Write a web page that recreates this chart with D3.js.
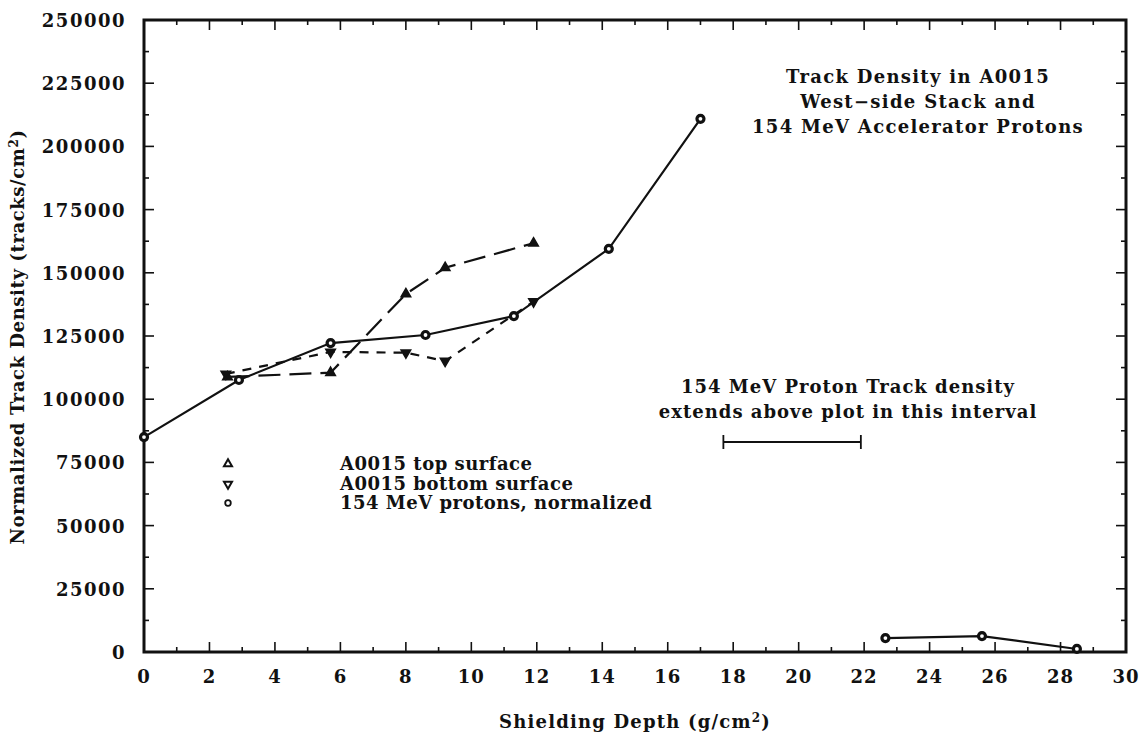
<!DOCTYPE html>
<html><head><meta charset="utf-8">
<script src="https://cdn.jsdelivr.net/npm/d3@7"></script>
<style>
body{margin:0;background:#fff;}
svg text{font-family:"DejaVu Serif",serif;font-weight:bold;fill:#111;}
</style></head>
<body><svg id="c" width="1143" height="732"></svg>
<script>
// ---- data ----
const topX = [2.55, 5.7, 8.0, 9.2, 11.9];
const topY = [108800, 110500, 141600, 152000, 161700];
const botX = [2.5, 5.7, 8.0, 9.2, 11.9];
const botY = [110000, 118700, 118400, 115100, 138600];
const protX1 = [0, 2.9, 5.7, 8.6, 11.3, 14.2, 17.0];
const protY1 = [85000, 107600, 122200, 125400, 132900, 159500, 210900];
const protX2 = [22.65, 25.6, 28.5];
const protY2 = [5500, 6300, 1200];
const xTicks = [0,2,4,6,8,10,12,14,16,18,20,22,24,26,28,30];
const yTicks = [0,25000,50000,75000,100000,125000,150000,175000,200000,225000,250000];
const legendLabels = ["A0015 top surface","A0015 bottom surface","154 MeV protons, normalized"];
const titleLines = ["Track Density in A0015","West\u2212side Stack and","154 MeV Accelerator Protons"];
const noteLines = ["154 MeV Proton Track density","extends above plot in this interval"];
const intervalX = [17.7, 21.9];

const svg = d3.select("#c");
const L=144,R=1126,T=20,B=652;
const x = d3.scaleLinear().domain([0,30]).range([L,R]);
const y = d3.scaleLinear().domain([0,250000]).range([B,T]);

// ticks (inward, all four sides)
const g = svg.append("g").attr("stroke","#111").attr("stroke-width",1.6);
d3.range(0,31,1).forEach(v=>{
  const len = v%2===0?10:5;
  g.append("line").attr("x1",x(v)).attr("x2",x(v)).attr("y1",B).attr("y2",B-len);
  g.append("line").attr("x1",x(v)).attr("x2",x(v)).attr("y1",T).attr("y2",T+len);
});
d3.range(0,250001,12500).forEach(v=>{
  const len = v%25000===0?10:5;
  g.append("line").attr("y1",y(v)).attr("y2",y(v)).attr("x1",L).attr("x2",L+len);
  g.append("line").attr("y1",y(v)).attr("y2",y(v)).attr("x1",R).attr("x2",R-len);
});
svg.append("rect").attr("x",L).attr("y",T).attr("width",R-L).attr("height",B-T)
  .attr("fill","none").attr("stroke","#111").attr("stroke-width",3);

// tick labels
svg.append("g").selectAll("text").data(xTicks).join("text")
  .attr("x",d=>x(d)).attr("y",683).attr("text-anchor","middle")
  .attr("font-size",18).attr("letter-spacing",1).text(d=>d);
svg.append("g").selectAll("text").data(yTicks).join("text")
  .attr("x",126).attr("y",d=>y(d)+7).attr("text-anchor","end")
  .attr("font-size",18).attr("letter-spacing",1.5).text(d=>d);

// axis titles
svg.append("text").attr("x",635).attr("y",728).attr("text-anchor","middle")
  .attr("font-size",18).attr("letter-spacing",1.2)
  .html('Shielding Depth (g/cm<tspan dy="-6" font-size="12">2</tspan><tspan dy="6">)</tspan>');
svg.append("text").attr("transform","translate(24,337) rotate(-90)").attr("text-anchor","middle")
  .attr("font-size",18).attr("letter-spacing",0.6)
  .html('Normalized Track Density (tracks/cm<tspan dy="-6" font-size="12">2</tspan><tspan dy="6">)</tspan>');

// lines
const line = d3.line().x(d=>x(d[0])).y(d=>y(d[1]));
const zip=(a,b)=>a.map((v,i)=>[v,b[i]]);
const topData=zip(topX,topY), botData=zip(botX,botY), p1=zip(protX1,protY1), p2=zip(protX2,protY2);
svg.append("path").datum(topData).attr("d",line).attr("fill","none").attr("stroke","#111")
  .attr("stroke-width",2.2).attr("stroke-dasharray","22,9");
svg.append("path").datum(botData).attr("d",line).attr("fill","none").attr("stroke","#111")
  .attr("stroke-width",2.2).attr("stroke-dasharray","9,8");
[p1,p2].forEach(d=>svg.append("path").datum(d).attr("d",line).attr("fill","none")
  .attr("stroke","#111").attr("stroke-width",2.2));

// markers
const triUp = d3.symbol().type(d3.symbolTriangle).size(40);
function tri(sel,data,down){
  sel.selectAll(null).data(data).join("path").attr("d",triUp)
    .attr("transform",d=>`translate(${x(d[0])},${y(d[1])}) rotate(${down?180:0})`)
    .attr("fill","#111").attr("stroke","#111").attr("stroke-width",1.5);
}
tri(svg.append("g"),topData,false);
tri(svg.append("g"),botData,true);
svg.append("g").selectAll("circle").data(p1.concat(p2)).join("circle")
  .attr("cx",d=>x(d[0])).attr("cy",d=>y(d[1])).attr("r",3.5)
  .attr("fill","#fff").attr("stroke","#111").attr("stroke-width",3.2);

// legend
const lg = svg.append("g");
const ly=[464,484,503];
lg.append("path").attr("d",d3.symbol().type(d3.symbolTriangle).size(28))
  .attr("transform",`translate(228,${ly[0]})`).attr("fill","#fff").attr("stroke","#111").attr("stroke-width",2);
lg.append("path").attr("d",d3.symbol().type(d3.symbolTriangle).size(28))
  .attr("transform",`translate(228,${ly[1]}) rotate(180)`).attr("fill","#fff").attr("stroke","#111").attr("stroke-width",2);
lg.append("circle").attr("cx",228).attr("cy",ly[2]).attr("r",2.8).attr("fill","#fff").attr("stroke","#111").attr("stroke-width",1.8);
lg.selectAll("text").data(legendLabels).join("text")
  .attr("x",340).attr("y",(d,i)=>ly[i]+6).attr("font-size",18).attr("letter-spacing",0.5).text(d=>d);

// title block
svg.append("g").selectAll("text").data(titleLines).join("text")
  .attr("x",918).attr("y",(d,i)=>83+i*25).attr("text-anchor","middle")
  .attr("font-size",18).attr("letter-spacing",1.3).text(d=>d);

// note + interval
svg.append("g").selectAll("text").data(noteLines).join("text")
  .attr("x",848).attr("y",(d,i)=>393+i*25).attr("text-anchor","middle")
  .attr("font-size",18).attr("letter-spacing",1).text(d=>d);
const ig = svg.append("g").attr("stroke","#111").attr("stroke-width",1.8);
ig.append("line").attr("x1",x(intervalX[0])).attr("x2",x(intervalX[1])).attr("y1",442).attr("y2",442);
intervalX.forEach(v=>ig.append("line").attr("x1",x(v)).attr("x2",x(v)).attr("y1",435).attr("y2",449));
</script></body></html>
